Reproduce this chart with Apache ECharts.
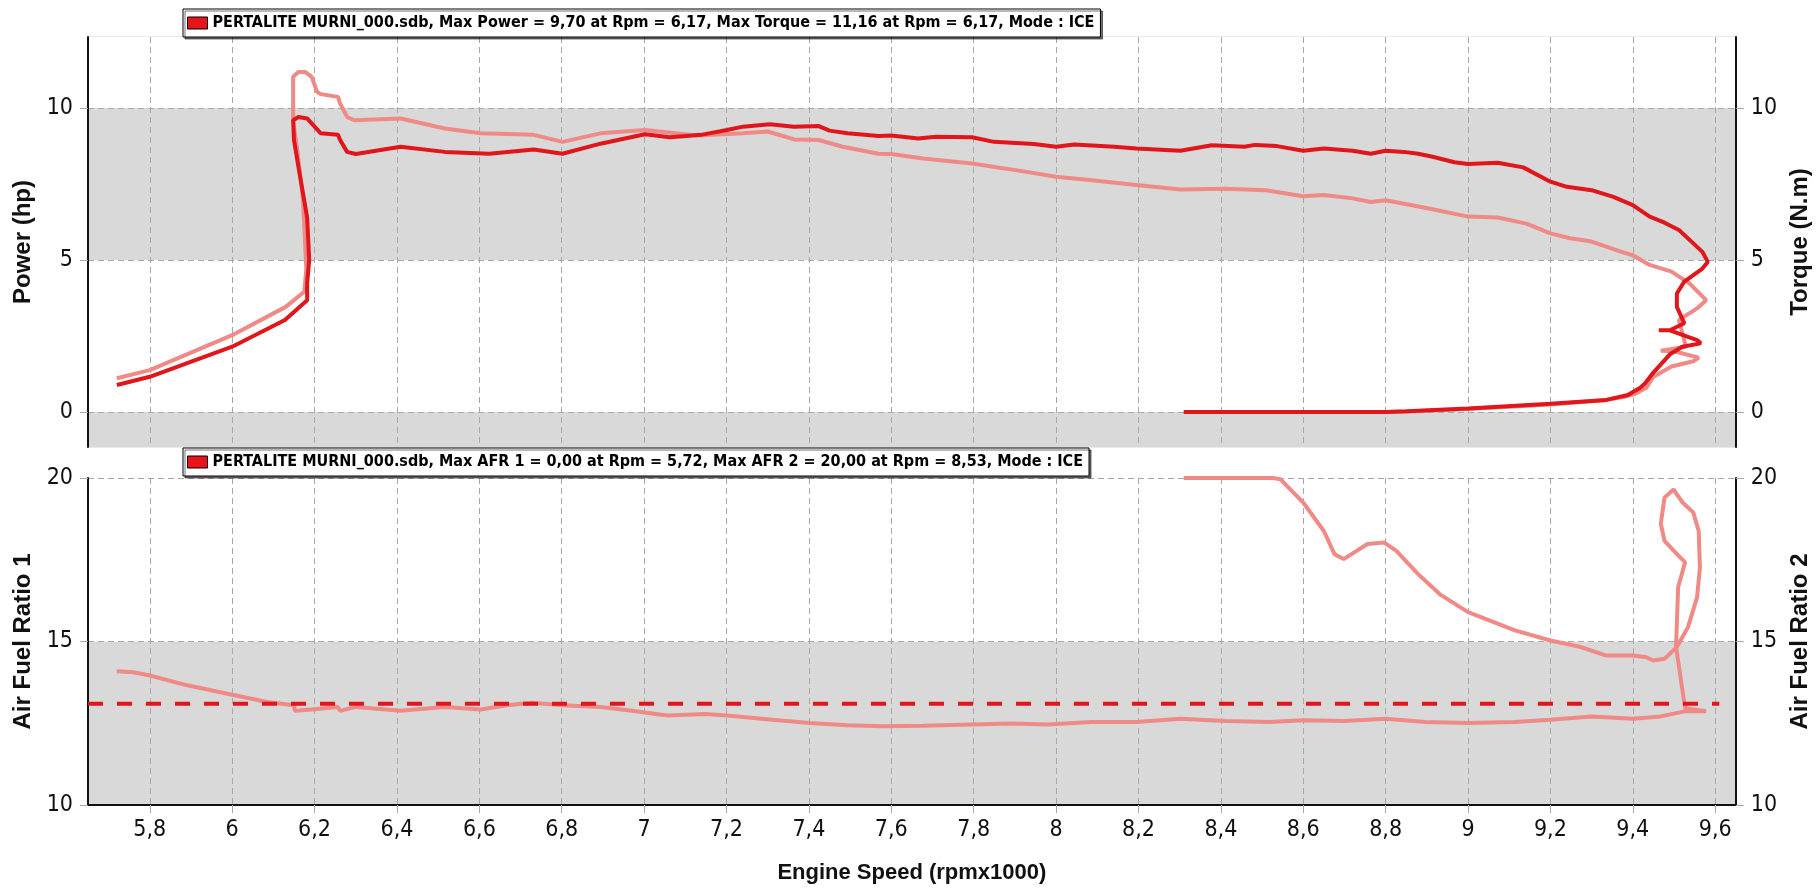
<!DOCTYPE html>
<html>
<head>
<meta charset="utf-8">
<title>PERTALITE MURNI_000 dyno</title>
<script src="https://cdn.jsdelivr.net/npm/echarts@6/dist/echarts.min.js"></script>
<style>
  html, body { margin: 0; padding: 0; background: #fff; }
  #chart { width: 1820px; height: 894px; }
</style>
</head>
<body>
<div id="chart"></div>
<script>
// legend texts
var legendPower = "PERTALITE MURNI_000.sdb, Max Power = 9,70 at Rpm = 6,17, Max Torque = 11,16 at Rpm = 6,17, Mode : ICE";
var legendAfr = "PERTALITE MURNI_000.sdb, Max AFR 1 = 0,00 at Rpm = 5,72, Max AFR 2 = 20,00 at Rpm = 8,53, Mode : ICE";

// power run (hp), rpm x1000 - run up then coast down
var powerRpm = [5.72, 5.80, 6.00, 6.128, 6.182, 6.182, 6.187, 6.182, 6.161, 6.15, 6.148, 6.161, 6.182,
  6.215, 6.257, 6.262, 6.279, 6.30, 6.409, 6.516, 6.624, 6.732, 6.802, 6.894, 7.002, 7.062, 7.088,
  7.138, 7.201, 7.24, 7.305, 7.364, 7.424, 7.45, 7.494, 7.569, 7.60, 7.665, 7.709, 7.796, 7.849,
  7.946, 8.00, 8.044, 8.141, 8.195, 8.302, 8.378, 8.457, 8.483, 8.536, 8.60, 8.65, 8.72, 8.764,
  8.80, 8.844, 8.879, 8.914, 8.967, 9.00, 9.072, 9.134, 9.20, 9.24, 9.30, 9.353, 9.40, 9.441,
  9.477, 9.512, 9.547, 9.569, 9.582, 9.569, 9.525, 9.507, 9.507, 9.525, 9.49, 9.463, 9.49, 9.556,
  9.565, 9.52, 9.49, 9.45, 9.43, 9.418, 9.388, 9.336, 9.20, 9.00, 8.852, 8.80, 8.31];
var powerHp = [0.89, 1.16, 2.15, 3.03, 3.68, 4.24, 5.0, 6.4, 8.06, 8.95, 9.6, 9.71, 9.66,
  9.17, 9.12, 8.95, 8.56, 8.49, 8.73, 8.56, 8.5, 8.64, 8.5, 8.83, 9.14, 9.04, 9.07,
  9.12, 9.28, 9.39, 9.47, 9.39, 9.41, 9.26, 9.17, 9.08, 9.1, 9.0, 9.06, 9.04, 8.89,
  8.82, 8.73, 8.8, 8.73, 8.67, 8.6, 8.78, 8.73, 8.79, 8.75, 8.6, 8.67, 8.6, 8.5,
  8.6, 8.56, 8.5, 8.4, 8.22, 8.16, 8.2, 8.05, 7.58, 7.41, 7.3, 7.08, 6.81, 6.43,
  6.23, 5.99, 5.55, 5.27, 4.94, 4.72, 4.29, 3.9, 3.46, 2.92, 2.69, 2.69, 2.69, 2.37,
  2.26, 2.15, 1.9, 1.3, 0.95, 0.8, 0.56, 0.4, 0.27, 0.12, 0.03, 0, 0];

// torque run (N.m)
var torqueRpm = [5.72, 5.80, 6.00, 6.13, 6.175, 6.18, 6.172, 6.158, 6.148, 6.148, 6.161, 6.177, 6.193,
  6.206, 6.215, 6.257, 6.262, 6.279, 6.296, 6.409, 6.516, 6.603, 6.732, 6.802, 6.894, 7.002, 7.129,
  7.24, 7.30, 7.364, 7.424, 7.482, 7.569, 7.60, 7.677, 7.796, 7.925, 8.00, 8.087, 8.195, 8.302,
  8.41, 8.509, 8.60, 8.65, 8.72, 8.764, 8.80, 8.861, 8.914, 9.00, 9.072, 9.142, 9.20, 9.248,
  9.30, 9.371, 9.40, 9.441, 9.494, 9.538, 9.578, 9.556, 9.512, 9.529, 9.468, 9.50, 9.56, 9.547,
  9.494, 9.45, 9.433, 9.406, 9.38, 9.336, 9.20, 9.00, 8.85, 8.80, 8.31];
var torqueNm = [1.11, 1.38, 2.53, 3.46, 3.96, 4.7, 6.97, 8.62, 9.6, 11.03, 11.19, 11.19, 11.03,
  10.54, 10.46, 10.37, 10.15, 9.71, 9.6, 9.66, 9.33, 9.17, 9.12, 8.89, 9.17, 9.28, 9.1,
  9.17, 9.23, 8.97, 8.95, 8.73, 8.5, 8.49, 8.34, 8.18, 7.91, 7.74, 7.63, 7.47, 7.32,
  7.35, 7.3, 7.1, 7.14, 7.03, 6.91, 6.97, 6.81, 6.67, 6.43, 6.4, 6.2, 5.88, 5.72,
  5.61, 5.28, 5.16, 4.84, 4.62, 4.23, 3.68, 3.41, 3.03, 2.15, 2.02, 2.0, 1.79, 1.67,
  1.5, 1.16, 0.8, 0.6, 0.5, 0.4, 0.25, 0.1, 0.02, 0, 0];

// air fuel ratio 2
var afrRpm = [5.72, 5.76, 5.80, 5.891, 6.00, 6.085, 6.15, 6.152, 6.193, 6.257, 6.262, 6.30, 6.409,
  6.516, 6.603, 6.667, 6.727, 6.802, 6.894, 6.97, 7.056, 7.149, 7.201, 7.311, 7.402, 7.494, 7.58,
  7.677, 7.796, 7.892, 7.979, 8.087, 8.195, 8.302, 8.41, 8.518, 8.60, 8.70, 8.80, 8.896, 9.00,
  9.114, 9.20, 9.30, 9.40, 9.468, 9.529, 9.578, 9.527, 9.505, 9.51, 9.527, 9.505, 9.477, 9.468,
  9.477, 9.499, 9.507, 9.521, 9.547, 9.56, 9.563, 9.556, 9.534, 9.507, 9.477, 9.45, 9.433, 9.40,
  9.336, 9.274, 9.20, 9.114, 9.00, 8.931, 8.879, 8.826, 8.796, 8.756, 8.698, 8.676, 8.65, 8.60,
  8.545, 8.527, 8.31];
var afr2 = [14.09, 14.06, 13.96, 13.66, 13.37, 13.15, 13.05, 12.88, 12.92, 13.0, 12.88, 13.0, 12.88,
  13.0, 12.92, 13.05, 13.13, 13.05, 13.0, 12.88, 12.74, 12.78, 12.74, 12.61, 12.51, 12.44, 12.41,
  12.42, 12.46, 12.49, 12.46, 12.54, 12.54, 12.64, 12.57, 12.54, 12.59, 12.57, 12.64, 12.54, 12.51,
  12.54, 12.61, 12.71, 12.64, 12.71, 12.87, 12.87, 12.96, 14.83, 16.66, 17.42, 17.7, 18.08, 18.6,
  19.4, 19.65, 19.5, 19.25, 18.94, 18.38, 17.26, 16.35, 15.44, 14.83, 14.47, 14.42, 14.52, 14.57,
  14.57, 14.83, 15.03, 15.34, 15.9, 16.45, 17.06, 17.77, 18.03, 17.98, 17.52, 17.67, 18.38, 19.25,
  19.96, 20.0, 20.0];

// target AFR reference line
var afrTargetRpm = [5.65, 9.61];
var afrTarget = [13.1, 13.1];

var narrow = "'DejaVu Sans Condensed', 'Liberation Sans Narrow', sans-serif";
var wide = "'Liberation Sans', Arial, sans-serif";
var gridGray = '#a8a8a8';

function pairs(xs, ys) {
  return xs.map(function (x, i) { return [x, ys[i]]; });
}
function comma(v) {
  return String(Number(v.toFixed(1))).replace('.', ',');
}

var splitLine = { show: true, showMinLine: false, showMaxLine: false, lineStyle: { color: gridGray, width: 1, type: [6, 4] } };
var bands = { show: true, areaStyle: { color: ['#d9d9d9', '#ffffff'] } };
var tickLabel = { fontFamily: narrow, fontSize: 23, color: '#111', margin: 15, showMinLabel: false, showMaxLabel: false };
var axisName = { fontFamily: wide, fontWeight: 'bold', fontSize: 24, color: '#111' };
var blackLine = { show: true, onZero: false, lineStyle: { color: '#111', width: 2 } };
var grayTick = { show: true, length: 8, lineStyle: { color: gridGray } };

function legendBox(name, top) {
  return {
    data: [{ name: name, icon: 'rect', itemStyle: { color: '#e8141c', borderColor: '#000', borderWidth: 1 } }],
    left: 183, top: top, padding: [6, 6, 6, 4],
    itemWidth: 20, itemHeight: 12,
    selectedMode: false,
    backgroundColor: '#fff', borderColor: '#000', borderWidth: 1,
    shadowColor: 'rgba(0,0,0,0.55)', shadowOffsetX: 2, shadowOffsetY: 2, shadowBlur: 0,
    textStyle: { fontFamily: narrow, fontWeight: 'bold', fontSize: 16, color: '#000' }
  };
}

var myChart = echarts.init(document.getElementById('chart'));
myChart.setOption({
  animation: false,
  backgroundColor: '#fff',
  legend: [legendBox(legendPower, 9), legendBox(legendAfr, 448)],
  grid: [
    { left: 88, right: 76, top: 37, height: 410, show: true, borderColor: '#d4d4d4', borderWidth: 1 },
    { left: 88, right: 76, top: 478, height: 327 }
  ],
  xAxis: [
    {
      type: 'value', gridIndex: 0, min: 5.65, max: 9.65, minInterval: 0.2, maxInterval: 0.2,
      axisLine: { show: false }, axisTick: { show: false }, axisLabel: { show: false },
      splitLine: splitLine
    },
    {
      type: 'value', gridIndex: 1, min: 5.65, max: 9.65, minInterval: 0.2, maxInterval: 0.2,
      axisLine: blackLine, axisTick: grayTick,
      axisLabel: Object.assign({}, tickLabel, { margin: 14, formatter: comma }),
      splitLine: splitLine,
      name: 'Engine Speed (rpmx1000)', nameLocation: 'middle', nameGap: 57,
      nameTextStyle: { fontFamily: wide, fontWeight: 'bold', fontSize: 22, color: '#111' }
    }
  ],
  yAxis: [
    {
      type: 'value', gridIndex: 0, position: 'left', min: -1.15, max: 12.34, minInterval: 5, maxInterval: 5,
      axisLine: blackLine, axisTick: grayTick, axisLabel: tickLabel,
      splitLine: splitLine, splitArea: bands,
      name: 'Power (hp)', nameLocation: 'middle', nameGap: 51, nameTextStyle: axisName
    },
    {
      type: 'value', gridIndex: 0, position: 'right', min: -1.15, max: 12.34, minInterval: 5, maxInterval: 5,
      axisLine: blackLine, axisTick: grayTick, axisLabel: tickLabel,
      splitLine: { show: false }, splitArea: { show: false },
      name: 'Torque (N.m)', nameLocation: 'middle', nameGap: 51, nameTextStyle: axisName
    },
    {
      type: 'value', gridIndex: 1, position: 'left', min: 10, max: 20, interval: 5,
      axisLine: blackLine, axisTick: grayTick,
      axisLabel: Object.assign({}, tickLabel, { showMinLabel: true, showMaxLabel: true }),
      splitLine: { show: true, lineStyle: splitLine.lineStyle }, splitArea: bands,
      name: 'Air Fuel Ratio 1', nameLocation: 'middle', nameGap: 51, nameTextStyle: axisName
    },
    {
      type: 'value', gridIndex: 1, position: 'right', min: 10, max: 20, interval: 5,
      axisLine: blackLine, axisTick: grayTick,
      axisLabel: Object.assign({}, tickLabel, { showMinLabel: true, showMaxLabel: true }),
      splitLine: { show: false }, splitArea: { show: false },
      name: 'Air Fuel Ratio 2', nameLocation: 'middle', nameGap: 51, nameTextStyle: axisName
    }
  ],
  series: [
    {
      name: 'Torque', type: 'line', xAxisIndex: 0, yAxisIndex: 1,
      data: pairs(torqueRpm, torqueNm), symbol: 'none', z: 2,
      lineStyle: { color: '#f08a86', width: 4 }, itemStyle: { color: '#f08a86' }
    },
    {
      name: legendPower, type: 'line', xAxisIndex: 0, yAxisIndex: 0,
      data: pairs(powerRpm, powerHp), symbol: 'none', z: 3,
      lineStyle: { color: '#e0161b', width: 4 }, itemStyle: { color: '#e0161b' }
    },
    {
      name: legendAfr, type: 'line', xAxisIndex: 1, yAxisIndex: 3,
      data: pairs(afrRpm, afr2), symbol: 'none', z: 2,
      lineStyle: { color: '#f08a86', width: 4 }, itemStyle: { color: '#f08a86' }
    },
    {
      name: 'AFR Target', type: 'line', xAxisIndex: 1, yAxisIndex: 2,
      data: pairs(afrTargetRpm, afrTarget), symbol: 'none', z: 3,
      lineStyle: { color: '#e0161b', width: 4, type: [15, 14] }, itemStyle: { color: '#e0161b' }
    }
  ]
});
</script>
</body>
</html>
